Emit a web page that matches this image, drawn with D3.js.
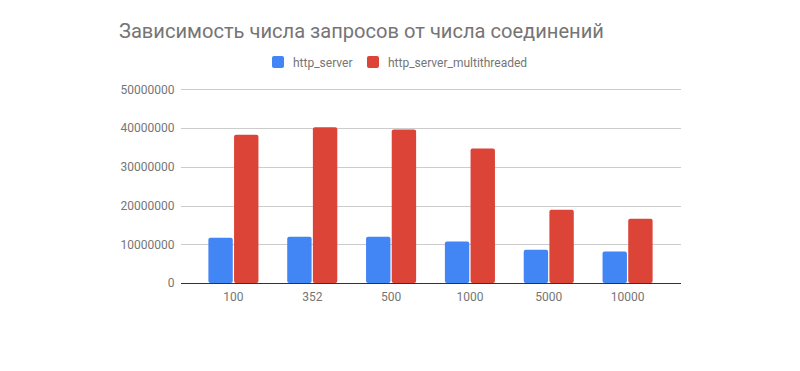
<!DOCTYPE html>
<html><head><meta charset="utf-8">
<script src="https://cdn.jsdelivr.net/npm/d3@7"></script>
<style>body{margin:0;background:#fff}svg{display:block}</style>
</head><body>
<svg id="c" width="800" height="371"></svg>
<script>
const title = "Зависимость числа запросов от числа соединений";
const categories = ["100", "352", "500", "1000", "5000", "10000"];
const seriesNames = ["http_server", "http_server_multithreaded"];
const httpServer = [11700000, 11950000, 11950000, 10700000, 8600000, 8100000];
const httpServerMultithreaded = [38300000, 40200000, 39600000, 34700000, 18900000, 16600000];
const yTicks = [0, 10000000, 20000000, 30000000, 40000000, 50000000];
const colors = ["#4285F4", "#DB4437"];

const series = [httpServer, httpServerMultithreaded];
const svg = d3.select("#c");
const font = "Roboto, Arial, sans-serif";

const x = d3.scaleBand().domain(categories).range([194, 667]).paddingInner(0.365).paddingOuter(0.1825);
const xs = d3.scaleBand().domain(d3.range(series.length)).range([0, x.bandwidth()]).paddingInner(0.05);
const y = d3.scaleLinear().domain([0, 50000000]).range([283, 89.3]);

// gridlines
svg.append("g").selectAll("line").data(yTicks.slice(1)).join("line")
  .attr("x1", 181).attr("x2", 681)
  .attr("y1", d => Math.round(y(d)) + 0.5).attr("y2", d => Math.round(y(d)) + 0.5)
  .attr("stroke", "#cccccc").attr("stroke-width", 1);

// y axis labels
const yAxis = d3.axisLeft(y).tickValues(yTicks).tickSize(0).tickPadding(0).tickFormat(d3.format("d"));
const ya = svg.append("g").attr("transform", "translate(174.5,0)").call(yAxis);
ya.select(".domain").remove();
ya.selectAll("text").attr("font-family", font).attr("font-size", 12).attr("fill", "#757575");

// bars
const groups = svg.append("g").selectAll("g").data(categories).join("g")
  .attr("transform", d => `translate(${x(d)},0)`);
groups.selectAll("rect").data((d, i) => series.map((s, k) => ({k, v: s[i]}))).join("rect")
  .attr("x", d => xs(d.k)).attr("width", xs.bandwidth())
  .attr("y", d => y(d.v)).attr("height", d => y(0) - y(d.v))
  .attr("rx", 2).attr("fill", d => colors[d.k]);

// x axis
const xAxis = d3.axisBottom(x).tickSize(0).tickPadding(9);
const xa = svg.append("g").attr("transform", "translate(0,283)").call(xAxis);
xa.select(".domain").remove();
xa.selectAll("text").attr("font-family", font).attr("font-size", 12).attr("fill", "#757575");
svg.append("line").attr("x1", 181).attr("x2", 681).attr("y1", 283.5).attr("y2", 283.5)
  .attr("stroke", "#333333").attr("stroke-width", 1);

// title
svg.append("text").attr("x", 119).attr("y", 38).text(title)
  .attr("font-family", font).attr("font-size", 20.1).attr("fill", "#757575");

// legend
const legX = [272, 367];
const leg = svg.append("g").selectAll("g").data(seriesNames).join("g")
  .attr("transform", (d, i) => `translate(${legX[i]},56)`);
leg.append("rect").attr("width", 12).attr("height", 12).attr("rx", 2).attr("fill", (d, i) => colors[i]);
leg.append("text").attr("x", 21).attr("y", 10.5).text(d => d)
  .attr("font-family", font).attr("font-size", 12).attr("fill", "#757575");
</script>
</body></html>
